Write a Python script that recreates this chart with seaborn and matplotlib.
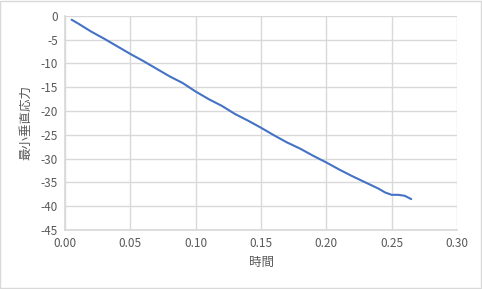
import matplotlib
matplotlib.use("Agg")
import matplotlib.pyplot as plt
import seaborn as sns
import pandas as pd
from matplotlib.patches import Rectangle

sns.set_theme(style="white")
plt.rcParams['font.family'] = ['Noto Sans CJK JP', 'DejaVu Sans']

time = [0.005, 0.01, 0.02, 0.03, 0.04, 0.05, 0.06, 0.07, 0.08, 0.09, 0.10,
        0.11, 0.12, 0.13, 0.14, 0.15, 0.16, 0.17, 0.18, 0.19, 0.20, 0.21,
        0.22, 0.23, 0.24, 0.245, 0.25, 0.255, 0.26, 0.265]
stress = [-0.8, -1.6, -3.3, -4.8, -6.4, -8.0, -9.5, -11.1, -12.7, -14.1, -15.9,
          -17.5, -18.9, -20.6, -22.0, -23.5, -25.1, -26.6, -27.9, -29.4, -30.8, -32.3,
          -33.7, -35.0, -36.3, -37.1, -37.6, -37.6, -37.8, -38.5]
xticks = [0.00, 0.05, 0.10, 0.15, 0.20, 0.25, 0.30]
yticks = [0, -5, -10, -15, -20, -25, -30, -35, -40, -45]
xlabel = "時間"
ylabel = "最小垂直応力"

df = pd.DataFrame({"t": time, "s": stress})

fig = plt.figure(figsize=(4.82, 2.89), dpi=100)
ax = fig.add_axes([0.135, 0.204, 0.813, 0.741])
sns.lineplot(data=df, x="t", y="s", ax=ax, color="#4472C4", linewidth=1.5)

ax.set_xlim(0, 0.30)
ax.set_ylim(-45, 0)
ax.set_xticks(xticks)
ax.set_xticklabels([f"{v:.2f}" for v in xticks])
ax.set_yticks(yticks)
ax.set_yticklabels([str(v) for v in yticks])
ax.grid(True, color="#D9D9D9", linewidth=1)
ax.set_axisbelow(True)
for s in ax.spines.values():
    s.set_visible(False)
ax.spines['left'].set_visible(True)
ax.spines['left'].set_color("#D9D9D9")
ax.spines['bottom'].set_visible(True)
ax.spines['bottom'].set_color("#D9D9D9")
ax.tick_params(axis='both', colors="#595959", labelsize=8.5, length=0, pad=5)
ax.set_xlabel(xlabel, color="#595959", fontsize=9, labelpad=4)
ax.set_ylabel(ylabel, color="#595959", fontsize=9, labelpad=6)

fig.patches.append(Rectangle((0.001, 0.002), 0.997, 0.995, transform=fig.transFigure,
                             fill=False, edgecolor="#D9D9D9", linewidth=1))
fig.savefig("out.png", dpi=100)
